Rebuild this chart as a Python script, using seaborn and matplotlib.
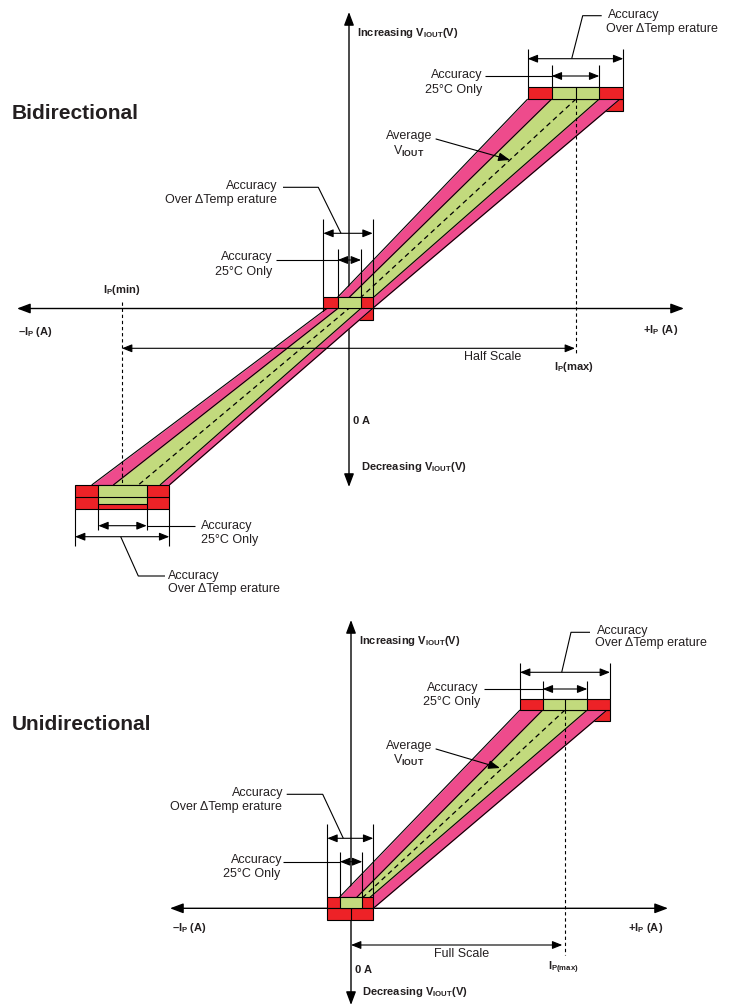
import numpy as np
import pandas as pd
import seaborn as sns
import matplotlib.pyplot as plt
from matplotlib.patches import Rectangle

# ---- band stations (y, then x of each band edge) ----
bi_band_y = [99, 308.3, 485]
bi_pink_l = [527.7, 327, 91.7]
bi_green_l = [551.7, 338, 113.3]
bi_mid = [576, 349, 138.3]
bi_green_r = [599.3, 361, 160]
bi_pink_r = [620, 372.7, 169.3]

uni_band_y = [710, 908.3]
uni_pink_l = [520, 328.7]
uni_green_l = [542.7, 345.8]
uni_mid = [565, 351.1]
uni_green_r = [587.3, 357.2]
uni_pink_r = [607, 373.3]

# boxes: x0, green x0, green x1, x1, top, row split, bottom
bi_tr_box = [527.7, 551.7, 599.3, 623.3, 87.3, 99, 110.7]
bi_c_box = [323.3, 337.7, 361, 372.7, 296.7, 308.3, 320]
bi_bl_box = [75, 98.3, 146.7, 169.3, 485, 497.3, 509]
uni_tr_box = [520, 542.7, 587.3, 610, 699.3, 710, 721]
uni_o_box = [327.3, 340, 362.3, 373.3, 897.3, 908.3, 920]

PINK = '#EE4B8C'
RED = '#ED2227'
GREEN = '#C2DA7D'

sns.set_theme(style='white')
plt.rcParams['font.family'] = ['Liberation Sans', 'DejaVu Sans']
plt.rcParams['mathtext.fontset'] = 'custom'
plt.rcParams['mathtext.rm'] = 'Liberation Sans'
plt.rcParams['mathtext.bf'] = 'Liberation Sans:bold'

fig = plt.figure(figsize=(7.41, 10.06), dpi=100)
ax = fig.add_axes([0, 0, 1, 1])
ax.set_xlim(0, 741)
ax.set_ylim(1006, 0)
ax.axis('off')

AX_STYLE = '<|-|>,head_length=0.4,head_width=0.15'
DIM_STYLE = '<|-|>,head_length=0.3,head_width=0.12'


def arrow(p0, p1, style, lw=0.8, z=8):
    ax.annotate('', xy=p1, xytext=p0, zorder=z, annotation_clip=False,
                arrowprops=dict(arrowstyle=style, color='black', lw=lw,
                                mutation_scale=20, shrinkA=0, shrinkB=0))


def line(xs, ys, z=8, **kw):
    ax.plot(xs, ys, color='black', lw=0.8, zorder=z, solid_capstyle='butt', **kw)


def dashed(xs, ys):
    ax.plot(xs, ys, color='black', lw=0.8, ls=(0, (3, 2.5)), zorder=6)


def rect(x0, x1, y0, y1, color, z):
    ax.add_patch(Rectangle((x0, y0), x1 - x0, y1 - y0, facecolor=color,
                           edgecolor='black', lw=0.8, zorder=z))


def band(y, pl, gl, mid, gr, pr):
    ax.fill_betweenx(y, pl, pr, color=PINK, lw=0, zorder=3)
    ax.fill_betweenx(y, gl, gr, color=GREEN, lw=0, zorder=4)
    for xs in (pl, gl, gr, pr):
        line(xs, y, z=4.5)
    sns.lineplot(x=mid, y=y, sort=False, estimator=None, color='black',
                 lw=0.9, dashes=False, linestyle=(0, (4, 3)), ax=ax, zorder=5)


def txt(x, y, s, ha='left', size=9, bold=False):
    ax.text(x, y, s, ha=ha, va='center', fontsize=size,
            fontweight='bold' if bold else 'normal', color='#231F20', zorder=10)


def dims(b, y_outer, y_inner, ext_outer, ext_inner, below=False):
    x0, g0, g1, x1, top, split, bot = b
    if below:
        line([x0, x0], [bot, ext_outer])
        line([x1, x1], [bot, ext_outer])
        line([g0, g0], [bot - 5, ext_inner])
        line([g1, g1], [bot - 5, ext_inner])
    else:
        line([x0, x0], [ext_outer, top])
        line([x1, x1], [ext_outer, top])
        line([g0, g0], [ext_inner, top])
        line([g1, g1], [ext_inner, top])
    arrow((x0, y_outer), (x1, y_outer), DIM_STYLE)
    arrow((g0, y_inner), (g1, y_inner), DIM_STYLE)


def pointer(p0, p1):
    ax.annotate('', xy=p1, xytext=p0, zorder=8,
                arrowprops=dict(arrowstyle='-|>,head_length=0.35,head_width=0.13',
                                color='black', lw=0.8, mutation_scale=20,
                                shrinkA=0, shrinkB=0))


VI = r'V$_{\mathbf{IOUT}}$'
DT = 'Over \u0394Temp erature'
IP = 'I$_{\\mathbf{P}}$'

# ================= Bidirectional =================
arrow((17, 308.5), (684, 308.5), AX_STYLE, lw=1, z=1)
arrow((349, 12), (349, 487), AX_STYLE, lw=1, z=1)
arrow((122, 348.3), (575, 348.3), DIM_STYLE)
dashed([121.7, 121.7], [301.7, 485])
dashed([576, 576], [99, 354])

# lower rows sit under the band
rect(bi_tr_box[0], bi_tr_box[3], bi_tr_box[5], bi_tr_box[6], RED, 2)
rect(bi_c_box[0], bi_c_box[3], bi_c_box[5], bi_c_box[6], RED, 2)
band(bi_band_y, bi_pink_l, bi_green_l, bi_mid, bi_green_r, bi_pink_r)

for b in (bi_tr_box, bi_c_box):
    rect(b[0], b[3], b[4], b[5], RED, 6)
    rect(b[1], b[2], b[4], b[5], GREEN, 6.2)
line([576, 576], [87.3, 99], z=6.5)

b = bi_bl_box
rect(b[0], b[3], b[4], b[6], RED, 6)
rect(b[1], b[2], b[4], 504, GREEN, 6.2)
line([b[0], b[3]], [b[5], b[5]], z=6.5)

dims(bi_tr_box, 58.7, 76, 49.3, 65)
dims(bi_c_box, 233.3, 260, 219.3, 249.3)
dims(bi_bl_box, 536.7, 525.7, 546, 530, below=True)

# leaders
line([571.7, 582.7, 601.7], [58.7, 15.7, 15.7])
line([485, 551.7], [76, 76])
line([283, 318.3, 341], [187.3, 187.3, 233.3])
line([276, 337.7], [260, 260])
line([146.7, 195], [525.7, 525.7])
line([120.7, 138.3, 165], [536.7, 576, 576])
pointer((436, 139), (510, 160))

txt(12, 113, 'Bidirectional', size=15, bold=True)
txt(356.7, 33.3, 'Increasing ' + VI + '(V)', size=8, bold=True)
txt(360.7, 466.7, 'Decreasing ' + VI + '(V)', size=8, bold=True)
txt(353, 420.7, '0 A', size=8, bold=True)
txt(18.3, 331.7, '\u2013' + IP + ' (A)', size=8, bold=True)
txt(642.7, 330, '+' + IP + ' (A)', size=8, bold=True)
txt(103, 290, IP + '(min)', size=8, bold=True)
txt(554.3, 367.3, IP + '(max)', size=8, bold=True)
txt(493, 356.5, 'Half Scale', ha='center')
txt(608, 15, 'Accuracy')
txt(606, 28.5, DT)
txt(482, 75, 'Accuracy', ha='right')
txt(482, 90, '25\u00b0C Only', ha='right')
txt(277, 186, 'Accuracy', ha='right')
txt(277, 200, DT, ha='right')
txt(272, 257, 'Accuracy', ha='right')
txt(272, 272, '25\u00b0C Only', ha='right')
txt(201, 525.5, 'Accuracy')
txt(201, 540, '25\u00b0C Only')
txt(168, 576, 'Accuracy')
txt(168, 589, DT)
txt(409, 136, 'Average', ha='center')
txt(409, 151, VI, ha='center')

# ================= Unidirectional =================
arrow((170, 908.3), (668, 908.3), AX_STYLE, lw=1, z=1)
arrow((351, 620), (351, 1005), AX_STYLE, lw=1, z=1)
arrow((351, 945), (562.3, 945), DIM_STYLE)
dashed([565, 565], [710, 955])

b = uni_tr_box
rect(b[0], b[3], b[5], b[6], RED, 2)
band(uni_band_y, uni_pink_l, uni_green_l, uni_mid, uni_green_r, uni_pink_r)
rect(b[0], b[3], b[4], b[5], RED, 6)
rect(b[1], b[2], b[4], b[5], GREEN, 6.2)
line([565, 565], [699.3, 710], z=6.5)

b = uni_o_box
rect(b[0], b[3], b[4], b[5], RED, 6)
rect(b[1], b[2], b[4], b[5], GREEN, 6.2)
rect(b[0], b[3], b[5], b[6], RED, 6)
line([350.7, 350.7], [b[5], b[6]], z=6.5)

dims(uni_tr_box, 672.3, 689, 662.7, 680.7)
dims(uni_o_box, 838.3, 861.7, 824, 851.7)

line([561.7, 571, 590], [672.3, 632.3, 632.3])
line([484, 542.7], [689, 689])
line([286.7, 322.7, 343.3], [794.3, 794.3, 838.3])
line([283, 340], [861.7, 861.7])
pointer((436, 749), (500, 768))

txt(12, 724, 'Unidirectional', size=15, bold=True)
txt(359, 641, 'Increasing ' + VI + '(V)', size=8, bold=True)
txt(362.3, 991.7, 'Decreasing ' + VI + '(V)', size=8, bold=True)
txt(355, 970, '0 A', size=8, bold=True)
txt(172, 928, '\u2013' + IP + ' (A)', size=8, bold=True)
txt(628, 928, '+' + IP + ' (A)', size=8, bold=True)
txt(548.3, 967.7, 'I$_{\\mathbf{P(max)}}$', size=8, bold=True)
txt(461.7, 954, 'Full Scale', ha='center')
txt(597, 630.7, 'Accuracy')
txt(595, 643.3, DT)
txt(478, 688, 'Accuracy', ha='right')
txt(480, 702, '25\u00b0C Only', ha='right')
txt(283, 793, 'Accuracy', ha='right')
txt(282, 807, DT, ha='right')
txt(282, 860, 'Accuracy', ha='right')
txt(280, 874, '25\u00b0C Only', ha='right')
txt(409, 746, 'Average', ha='center')
txt(409, 760, VI, ha='center')

ax.set_xlim(0, 741)
ax.set_ylim(1006, 0)
fig.savefig('out.png', dpi=100)
